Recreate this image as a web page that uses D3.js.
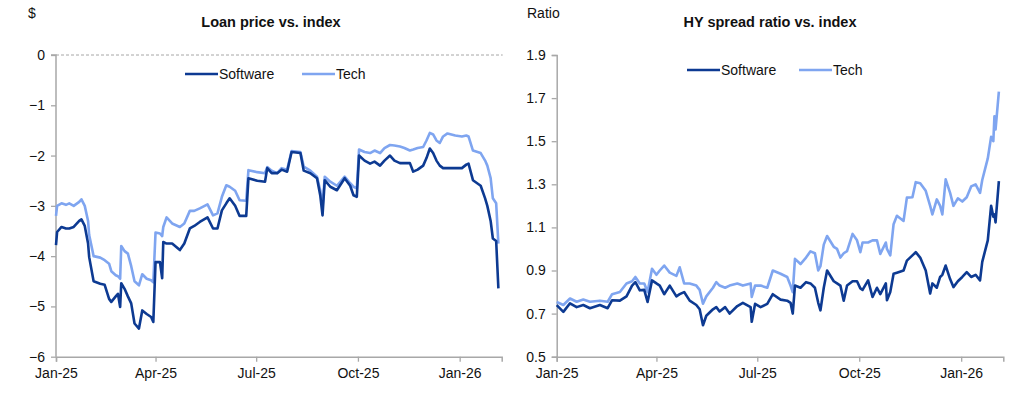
<!DOCTYPE html>
<html><head><meta charset="utf-8">
<script src="https://cdn.jsdelivr.net/npm/d3@7"></script>
<style>
body{margin:0;background:#fff;}
svg{display:block;font-family:"Liberation Sans",Arial,sans-serif;}
</style></head>
<body><svg id="c" width="1032" height="394"></svg>
<script>
const seriesNames = ["Software", "Tech"];
const loanDates = ["2025-01-01","2025-01-02","2025-01-06","2025-01-10","2025-01-13","2025-01-17","2025-01-22","2025-01-24","2025-01-27","2025-01-30","2025-01-31","2025-02-04","2025-02-10","2025-02-14","2025-02-18","2025-02-20","2025-02-24","2025-02-26","2025-02-28","2025-03-01","2025-03-04","2025-03-07","2025-03-10","2025-03-13","2025-03-17","2025-03-20","2025-03-24","2025-03-28","2025-03-30","2025-04-01","2025-04-05","2025-04-07","2025-04-08","2025-04-11","2025-04-16","2025-04-23","2025-04-27","2025-05-02","2025-05-06","2025-05-11","2025-05-18","2025-05-23","2025-05-27","2025-05-31","2025-06-04","2025-06-07","2025-06-12","2025-06-16","2025-06-22","2025-06-24","2025-07-02","2025-07-09","2025-07-11","2025-07-15","2025-07-20","2025-07-24","2025-07-29","2025-08-02","2025-08-10","2025-08-13","2025-08-19","2025-08-25","2025-08-28","2025-08-30","2025-09-01","2025-09-06","2025-09-12","2025-09-19","2025-09-24","2025-09-27","2025-09-30","2025-10-02","2025-10-07","2025-10-12","2025-10-16","2025-10-21","2025-10-25","2025-10-30","2025-11-03","2025-11-08","2025-11-12","2025-11-17","2025-11-20","2025-11-24","2025-11-29","2025-12-02","2025-12-05","2025-12-08","2025-12-11","2025-12-14","2025-12-17","2025-12-21","2025-12-28","2026-01-03","2026-01-07","2026-01-09","2026-01-13","2026-01-20","2026-01-24","2026-01-26","2026-01-29","2026-01-31","2026-02-03","2026-02-05"];
const loanSoftware = [-3.78,-3.52,-3.42,-3.45,-3.45,-3.42,-3.3,-3.27,-3.4,-3.75,-4.02,-4.5,-4.55,-4.57,-4.85,-4.91,-4.8,-4.75,-5.01,-4.54,-4.65,-4.8,-4.94,-5.34,-5.44,-5.08,-5.15,-5.21,-5.31,-4.12,-4.12,-4.44,-3.72,-3.75,-3.75,-3.88,-3.75,-3.45,-3.4,-3.32,-3.23,-3.45,-3.45,-3.09,-2.95,-2.85,-3.0,-3.2,-3.2,-2.45,-2.5,-2.52,-2.25,-2.35,-2.35,-2.28,-2.32,-1.93,-1.95,-2.3,-2.35,-2.45,-2.8,-3.19,-2.49,-2.62,-2.69,-2.45,-2.6,-2.79,-2.82,-2.0,-2.1,-2.16,-2.12,-2.2,-2.1,-2.0,-2.1,-2.15,-2.15,-2.15,-2.32,-2.28,-2.2,-2.05,-1.86,-1.95,-2.1,-2.2,-2.25,-2.25,-2.25,-2.25,-2.18,-2.16,-2.49,-2.6,-2.85,-3.0,-3.3,-3.65,-3.7,-4.64];
const loanTech = [-3.2,-3.0,-2.95,-2.98,-2.95,-3.0,-2.92,-2.87,-3.0,-3.3,-3.58,-4.0,-4.03,-4.08,-4.15,-4.3,-4.38,-4.4,-4.45,-3.8,-3.9,-3.95,-4.2,-4.5,-4.58,-4.36,-4.45,-4.48,-4.52,-3.53,-3.55,-3.6,-3.42,-3.23,-3.35,-3.42,-3.35,-3.1,-3.1,-3.05,-2.97,-3.19,-3.15,-2.82,-2.59,-2.62,-2.7,-2.89,-2.9,-2.29,-2.33,-2.35,-2.23,-2.3,-2.35,-2.25,-2.28,-1.91,-1.93,-2.22,-2.3,-2.42,-2.7,-3.02,-2.42,-2.52,-2.6,-2.42,-2.55,-2.62,-2.65,-1.88,-1.93,-1.95,-1.9,-1.95,-1.85,-1.79,-1.8,-1.82,-1.85,-1.9,-1.88,-1.85,-1.83,-1.7,-1.55,-1.58,-1.7,-1.75,-1.62,-1.56,-1.6,-1.62,-1.6,-1.62,-1.9,-1.95,-2.1,-2.2,-2.45,-2.85,-2.95,-3.75];

const hyDates = ["2025-01-01","2025-01-07","2025-01-13","2025-01-19","2025-01-25","2025-01-31","2025-02-09","2025-02-16","2025-02-20","2025-02-27","2025-03-05","2025-03-10","2025-03-13","2025-03-17","2025-03-21","2025-03-24","2025-03-28","2025-04-01","2025-04-04","2025-04-08","2025-04-13","2025-04-19","2025-04-22","2025-04-26","2025-05-01","2025-05-07","2025-05-10","2025-05-13","2025-05-16","2025-05-22","2025-05-25","2025-05-28","2025-06-02","2025-06-06","2025-06-13","2025-06-18","2025-06-25","2025-06-26","2025-06-29","2025-07-04","2025-07-10","2025-07-15","2025-07-22","2025-07-28","2025-07-31","2025-08-02","2025-08-04","2025-08-09","2025-08-14","2025-08-18","2025-08-22","2025-08-25","2025-08-27","2025-08-30","2025-09-02","2025-09-08","2025-09-11","2025-09-14","2025-09-17","2025-09-20","2025-09-25","2025-09-29","2025-10-02","2025-10-04","2025-10-09","2025-10-13","2025-10-17","2025-10-20","2025-10-25","2025-10-26","2025-10-29","2025-11-01","2025-11-04","2025-11-10","2025-11-13","2025-11-18","2025-11-21","2025-11-25","2025-11-30","2025-12-04","2025-12-06","2025-12-10","2025-12-13","2025-12-15","2025-12-18","2025-12-22","2025-12-25","2025-12-29","2026-01-02","2026-01-06","2026-01-10","2026-01-14","2026-01-18","2026-01-20","2026-01-25","2026-01-28","2026-01-30","2026-01-31","2026-02-01","2026-02-04"];
const hySoftware = [0.739,0.708,0.748,0.73,0.74,0.725,0.74,0.725,0.762,0.76,0.78,0.83,0.846,0.808,0.81,0.754,0.854,0.84,0.83,0.79,0.83,0.78,0.79,0.8,0.76,0.74,0.72,0.646,0.69,0.72,0.73,0.71,0.73,0.7,0.735,0.75,0.73,0.662,0.745,0.73,0.745,0.79,0.765,0.76,0.75,0.7,0.83,0.82,0.846,0.84,0.82,0.75,0.715,0.82,0.9,0.85,0.84,0.83,0.76,0.83,0.85,0.85,0.817,0.81,0.854,0.777,0.82,0.79,0.84,0.762,0.8,0.885,0.89,0.9,0.946,0.97,0.985,0.96,0.9,0.793,0.84,0.82,0.87,0.88,0.923,0.86,0.823,0.85,0.87,0.892,0.87,0.88,0.854,0.94,1.04,1.2,1.15,1.16,1.123,1.315];
const hyTech = [0.754,0.74,0.77,0.755,0.765,0.755,0.76,0.755,0.79,0.8,0.84,0.85,0.87,0.84,0.84,0.8,0.908,0.88,0.9,0.923,0.89,0.875,0.915,0.84,0.84,0.83,0.81,0.746,0.78,0.82,0.846,0.83,0.82,0.83,0.84,0.83,0.84,0.777,0.83,0.83,0.82,0.9,0.885,0.87,0.83,0.8,0.954,0.93,0.96,0.989,0.98,0.9,0.92,1.02,1.06,1.01,1.0,0.96,0.98,0.99,1.07,1.04,0.985,1.03,1.03,1.04,1.04,0.977,1.03,1.0,0.97,1.115,1.154,1.13,1.238,1.24,1.31,1.305,1.27,1.2,1.16,1.23,1.2,1.16,1.323,1.26,1.2,1.235,1.22,1.24,1.29,1.3,1.26,1.32,1.42,1.52,1.5,1.615,1.554,1.73];

const loanTicks = [0,-1,-2,-3,-4,-5,-6];
const hyTicks = [0.5,0.7,0.9,1.1,1.3,1.5,1.7,1.9];
const xTickDates = ["2025-01-01","2025-04-01","2025-07-01","2025-10-01","2026-01-01"];
const colors = {Software:"#0D3A92", Tech:"#7FA5F0"};

const parse = d3.timeParse("%Y-%m-%d");
const svg = d3.select("#c");

function panel(o){
  const g = svg.append("g");
  const x = d3.scaleTime().domain([parse("2025-01-01"), parse("2026-02-08")]).range([o.x0, o.x1]);
  const y = d3.scaleLinear().domain(o.yDomain).range([356.7, 55]);
  if (o.zeroLine) {
    g.append("line").attr("x1", o.x0).attr("x2", o.x1+1).attr("y1", y(0)).attr("y2", y(0))
      .attr("stroke","#a6a6a6").attr("stroke-width",1).attr("stroke-dasharray","3,2");
  }
  const ya = g.append("g").attr("transform",`translate(${o.x0},0)`)
    .call(d3.axisLeft(y).tickValues(o.ticks).tickSize(5).tickPadding(6).tickFormat(o.fmt));
  const xa = g.append("g").attr("transform",`translate(0,356.7)`)
    .call(d3.axisBottom(x).tickValues(xTickDates.map(parse)).tickSize(5).tickPadding(6).tickFormat(d3.timeFormat("%b-%y")));
  [ya, xa].forEach(a => {
    a.select(".domain").attr("stroke","#a8a8a8").attr("stroke-width",1.5);
    a.selectAll(".tick line").attr("stroke","#a8a8a8").attr("stroke-width",1.3);
    a.selectAll("text").attr("fill","#111").style("font-size","14px").style("font-family","'Liberation Sans',Arial,sans-serif");
  });
  if (o.zeroLine) ya.select(".domain").attr("d", `M-5,${y(0)}H0V356.7`);
  const line = d3.line().x(d=>x(d.date)).y(d=>y(d.v));
  seriesNames.slice().reverse().forEach(name => {
    const vals = o.series[name];
    const data = o.dates.map((d,i)=>({date:parse(d), v:vals[i]}));
    g.append("path").datum(data).attr("d", line).attr("fill","none")
      .attr("stroke", colors[name]).attr("stroke-width",2.6).attr("stroke-linejoin","round");
  });
  g.append("text").attr("x", o.titleX).attr("y", 27).attr("text-anchor","middle")
    .style("font-size","14.5px").style("font-weight","bold").attr("fill","#111").text(o.title);
  g.append("text").attr("x", o.unitX).attr("y", 18).style("font-size","14px").attr("fill","#111").text(o.unit);
  o.legend.forEach((l,i)=>{
    g.append("line").attr("x1", l.x).attr("x2", l.x+33).attr("y1", o.legY).attr("y2", o.legY)
      .attr("stroke", colors[seriesNames[i]]).attr("stroke-width",2.6);
    g.append("text").attr("x", l.x+34).attr("y", o.legY+5).style("font-size","14px").attr("fill","#111").text(seriesNames[i]);
  });
}

panel({x0:56, x1:501.7, yDomain:[-6,0], ticks:loanTicks, fmt:d3.format("d"), zeroLine:true,
  dates:loanDates, series:{Software:loanSoftware, Tech:loanTech},
  title:"Loan price vs. index", titleX:271, unit:"$", unitX:28, legY:74, legend:[{x:185},{x:302}]});
panel({x0:556.7, x1:1003.3, yDomain:[0.5,1.9], ticks:hyTicks, fmt:d3.format(".1f"), zeroLine:false,
  dates:hyDates, series:{Software:hySoftware, Tech:hyTech},
  title:"HY spread ratio vs. index", titleX:770, unit:"Ratio", unitX:527, legY:70, legend:[{x:687},{x:799}]});
</script></body></html>
